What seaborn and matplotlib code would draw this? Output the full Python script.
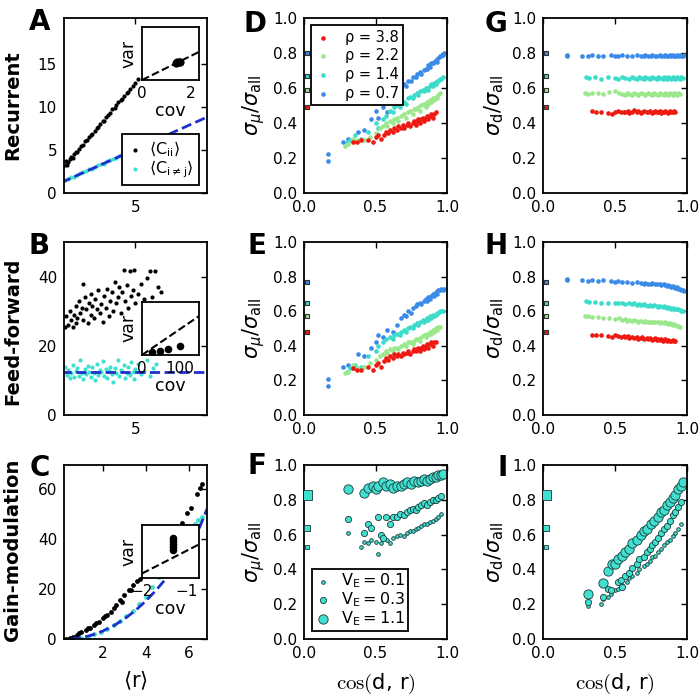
import matplotlib
matplotlib.use("Agg")
import matplotlib.pyplot as plt
import seaborn as sns

# ── Style ─────────────────────────────────────────────────
sns.set_theme(style="white", rc={"axes.edgecolor": "black", "axes.linewidth": 1.3,
                                 "text.color": "black", "axes.labelcolor": "black",
                                 "xtick.color": "black", "ytick.color": "black"})
plt.rcParams["font.family"] = ["DejaVu Sans"]
plt.rcParams["mathtext.rm"] = "cmr10"
plt.rcParams["mathtext.sf"] = "DejaVu Sans"

RED, GREEN, TURQ, BLUE = "#ee1a12", "#9be88c", "#3cdccb", "#3a8ae8"
CYAN, DBLUE, EDGE = "#40e0d0", "#1f2fcc", "#1c3a3a"

# ── Column 1 data (A: recurrent, B: feed-forward, C: gain) ─
A_BLACK_X = [0.3, 0.35, 0.4, 0.5, 0.6, 0.7, 0.8, 0.9, 1.0, 1.1, 1.2, 1.35, 1.5, 1.6, 1.75, 1.9, 2.0, 2.1, 2.25, 2.4,
             2.5, 2.65, 2.8, 2.9, 3.0, 3.15, 3.3, 3.45, 3.6, 3.7, 3.85, 4.0, 4.1, 4.25, 4.4, 4.5, 4.65, 4.8, 5.0, 5.15]
A_BLACK_Y = [3.2, 3.7, 3.3, 3.6, 3.9, 4.2, 4.1, 4.5, 4.8, 4.8, 5.1, 5.4, 5.6, 6.0, 6.1, 6.5, 6.7, 6.8, 7.2, 7.5,
             7.7, 8.0, 8.3, 8.4, 8.8, 9.0, 9.3, 9.7, 9.9, 10.2, 10.5, 10.8, 10.9, 11.3, 11.6, 11.7, 12.1, 12.4, 12.8, 13.2]
A_CYAN_X = [0.3, 0.5, 0.7, 0.9, 1.1, 1.3, 1.5, 1.7, 1.9, 2.1, 2.3, 2.5, 2.7, 2.9, 3.1, 3.3, 3.5, 3.7, 3.9, 4.1,
            4.3, 4.5, 4.7, 4.9, 5.1, 5.3, 5.5, 5.7, 5.9, 6.1, 6.3, 6.5, 6.7]
A_CYAN_Y = [1.5, 1.6, 1.8, 1.9, 2.1, 2.3, 2.4, 2.5, 2.8, 2.8, 3.0, 3.2, 3.4, 3.4, 3.7, 3.8, 4.0, 4.1, 4.3, 4.4,
            4.6, 4.7, 4.9, 5.1, 5.2, 5.4, 5.5, 5.7, 5.8, 6.0, 6.1, 6.3, 6.5]
A_FIT_X = [0.0, 9.8]
A_FIT_Y = [1.2, 8.8]
A_IN_X = [1.40, 1.45, 1.50, 1.55]
A_IN_Y = [1.40, 1.47, 1.50, 1.52]
A_IN_LINE = [0.0, 2.33]

B_BLACK_X = [0.3, 0.35, 0.5, 0.6, 0.7, 0.8, 0.9, 1.0, 1.0, 1.1, 1.2, 1.3, 1.4, 1.5, 1.5, 1.6, 1.7, 1.8, 1.9, 2.0,
             2.0, 2.1, 2.2, 2.3, 2.4, 2.5, 2.6, 2.7, 2.8, 2.9, 3.0, 3.1, 3.2, 3.3, 3.4, 3.5, 3.6, 3.7, 3.8, 3.9,
             4.0, 4.1, 4.2, 4.3, 4.4, 4.5, 4.6, 4.7, 4.8, 4.9, 5.0, 5.2, 5.4, 5.6, 5.8, 6.0, 6.1, 6.3, 6.5, 6.7]
B_BLACK_Y = [25.5, 28.5, 26.0, 30.0, 27.5, 25.5, 29.0, 31.5, 26.5, 28.0, 33.0, 29.5, 31.0, 38.0, 27.5, 34.0, 30.5, 26.5, 32.5, 29.0,
             35.0, 31.5, 28.0, 33.5, 30.5, 36.0, 29.5, 32.0, 27.0, 34.5, 31.0, 36.5, 28.5, 33.0, 35.5, 30.0, 38.5, 32.5, 34.0, 37.0,
             29.5, 35.5, 42.0, 33.0, 37.5, 31.0, 41.5, 34.5, 36.0, 42.0, 32.5, 35.0, 38.0, 33.5, 39.5, 41.5, 34.0, 41.5, 37.0, 35.5]
B_CYAN_X = [0.3, 0.4, 0.5, 0.6, 0.7, 0.8, 0.9, 1.0, 1.1, 1.2, 1.3, 1.4, 1.5, 1.6, 1.7, 1.8, 1.9, 2.0, 2.1, 2.2,
            2.3, 2.4, 2.5, 2.6, 2.7, 2.8, 2.9, 3.0, 3.1, 3.2, 3.3, 3.4, 3.5, 3.6, 3.7, 3.8, 3.9, 4.0, 4.1, 4.2,
            4.3, 4.4, 4.5, 4.6, 4.7, 4.8, 4.9, 5.0, 5.2, 5.4, 5.6, 5.8, 6.0, 6.2, 6.4]
B_CYAN_Y = [14.0, 11.5, 13.0, 10.8, 12.2, 14.5, 11.0, 12.8, 13.6, 11.2, 15.8, 12.0, 10.5, 13.2, 11.8, 14.2, 12.5, 11.0, 13.8, 12.2,
            10.2, 14.8, 11.6, 13.0, 12.4, 15.5, 11.4, 13.4, 10.6, 12.8, 14.0, 11.8, 9.6, 13.6, 12.2, 15.8, 11.2, 13.0, 12.6, 14.4,
            10.8, 12.0, 13.8, 11.6, 15.2, 12.4, 10.4, 13.2, 14.6, 11.8, 12.8, 16.0, 11.4, 13.6, 14.8]
B_FIT_X = [0.0, 9.8]
B_FIT_Y = [12.5, 12.5]
B_IN_X = [26, 47, 68, 100]
B_IN_Y = [13, 17, 22, 33]
B_IN_LINE = [0, 150]

C_BLACK_X = [0.3, 0.45, 0.6, 0.8, 1.0, 1.2, 1.4, 1.6, 1.8, 2.0, 2.2, 2.4, 2.6, 2.8, 3.0, 3.2, 3.4, 3.6, 3.75,
             0.9, 1.3, 1.7, 2.1, 2.5, 2.9, 3.3, 4.2, 4.8, 5.3, 5.68, 5.91, 6.1, 6.38, 6.52, 6.62]
C_BLACK_Y = [0.2, 0.6, 1.0, 1.8, 2.8, 3.6, 4.6, 5.6, 6.8, 8.4, 9.6, 11.0, 13.5, 15.5, 17.6, 19.5, 21.5, 23.4, 24.2,
             2.6, 4.4, 6.6, 9.4, 12.4, 15.0, 19.8, 29.0, 36.0, 42.0, 46.4, 50.4, 52.4, 58.0, 60.6, 62.0]
C_CYAN_X = [1.0, 1.3, 1.6, 1.9, 2.2, 2.5, 2.8, 3.1, 3.4, 3.7, 4.0, 4.3, 4.6, 5.0, 5.5, 6.0, 6.3, 6.45, 6.6]
C_CYAN_Y = [0.3, 1.0, 2.0, 3.0, 4.2, 5.6, 7.2, 9.2, 11.4, 14.0, 17.0, 21.0, 25.0, 30.0, 37.0, 42.5, 46.0, 47.5, 49.0]
C_FIT_X = [0.5, 1.0, 1.5, 2.0, 2.5, 3.0, 3.5, 4.0, 4.5, 5.0, 5.5, 6.0, 6.5, 6.85]
C_FIT_Y = [0.0, 0.5, 1.6, 3.2, 5.3, 8.0, 11.3, 15.2, 19.7, 24.8, 30.5, 37.0, 44.5, 52.0]
C_IN_X = [-1.31, -1.31, -1.31, -1.31, -1.31]
C_IN_Y = [-0.45, -0.58, -0.71, -0.84, -0.97]
C_IN_LINE = [-2.0, -0.73]

# ── Columns 2/3 data: four rho values, shared cos(d, r) ───
RHO_LABELS = ["ρ = 3.8", "ρ = 2.2", "ρ = 1.4", "ρ = 0.7"]
X_RHO38 = [0.34, 0.37, 0.40, 0.45, 0.48, 0.50, 0.52, 0.54, 0.56, 0.57, 0.59, 0.60, 0.62, 0.63, 0.65, 0.66, 0.68, 0.69, 0.70, 0.72,
           0.73, 0.74, 0.76, 0.77, 0.78, 0.79, 0.80, 0.81, 0.82, 0.83, 0.84, 0.85, 0.86, 0.87, 0.88, 0.89, 0.90, 0.91, 0.92]
X_RHO22 = [0.29, 0.31, 0.34, 0.38, 0.42, 0.46, 0.50, 0.53, 0.55, 0.57, 0.58, 0.60, 0.62, 0.63, 0.65, 0.66, 0.68, 0.70, 0.71, 0.73,
           0.74, 0.76, 0.77, 0.78, 0.80, 0.81, 0.82, 0.84, 0.85, 0.86, 0.87, 0.88, 0.89, 0.90, 0.91, 0.92, 0.93, 0.94, 0.95]
X_RHO14 = [0.30, 0.32, 0.36, 0.40, 0.45, 0.50, 0.52, 0.55, 0.57, 0.60, 0.62, 0.63, 0.65, 0.67, 0.68, 0.70, 0.71, 0.73, 0.74, 0.76,
           0.77, 0.79, 0.80, 0.81, 0.83, 0.84, 0.85, 0.86, 0.87, 0.88, 0.89, 0.90, 0.91, 0.92, 0.93, 0.94, 0.95, 0.96, 0.97]
X_RHO07 = [0.17, 0.17, 0.27, 0.31, 0.34, 0.38, 0.42, 0.47, 0.50, 0.52, 0.55, 0.58, 0.62, 0.65, 0.68, 0.70, 0.71, 0.73, 0.75, 0.76,
           0.78, 0.79, 0.81, 0.82, 0.84, 0.85, 0.86, 0.87, 0.88, 0.89, 0.90, 0.91, 0.92, 0.93, 0.94, 0.95, 0.96, 0.97, 0.98]

D_Y38 = [0.29, 0.29, 0.30, 0.30, 0.29, 0.32, 0.33, 0.31, 0.33, 0.35, 0.34, 0.36, 0.35, 0.37, 0.36, 0.38, 0.37, 0.39, 0.37, 0.39,
         0.40, 0.38, 0.40, 0.41, 0.39, 0.41, 0.42, 0.40, 0.42, 0.43, 0.41, 0.43, 0.44, 0.42, 0.44, 0.45, 0.43, 0.45, 0.46]
D_Y22 = [0.27, 0.28, 0.31, 0.30, 0.30, 0.32, 0.34, 0.37, 0.38, 0.40, 0.38, 0.41, 0.40, 0.42, 0.43, 0.41, 0.44, 0.45, 0.43, 0.46,
         0.47, 0.45, 0.48, 0.48, 0.49, 0.47, 0.50, 0.51, 0.49, 0.52, 0.51, 0.53, 0.52, 0.54, 0.53, 0.55, 0.54, 0.56, 0.57]
D_Y14 = [0.29, 0.30, 0.33, 0.31, 0.35, 0.40, 0.37, 0.42, 0.44, 0.47, 0.46, 0.49, 0.50, 0.49, 0.52, 0.52, 0.51, 0.54, 0.55, 0.54,
         0.56, 0.57, 0.56, 0.58, 0.59, 0.58, 0.60, 0.60, 0.59, 0.61, 0.62, 0.61, 0.63, 0.62, 0.64, 0.64, 0.65, 0.65, 0.66]
D_Y07 = [0.18, 0.22, 0.29, 0.31, 0.30, 0.35, 0.36, 0.42, 0.47, 0.43, 0.49, 0.46, 0.53, 0.56, 0.60, 0.62, 0.61, 0.64, 0.64, 0.66,
         0.66, 0.68, 0.69, 0.68, 0.70, 0.71, 0.71, 0.73, 0.72, 0.74, 0.74, 0.75, 0.76, 0.75, 0.77, 0.78, 0.78, 0.79, 0.80]

E_Y38 = [0.27, 0.26, 0.26, 0.28, 0.26, 0.29, 0.30, 0.28, 0.31, 0.33, 0.32, 0.34, 0.33, 0.35, 0.34, 0.35, 0.34, 0.36, 0.35, 0.36,
         0.37, 0.35, 0.37, 0.38, 0.37, 0.38, 0.39, 0.37, 0.39, 0.40, 0.38, 0.40, 0.41, 0.39, 0.41, 0.42, 0.40, 0.42, 0.42]
E_Y22 = [0.24, 0.25, 0.29, 0.27, 0.28, 0.30, 0.32, 0.34, 0.35, 0.37, 0.36, 0.38, 0.37, 0.39, 0.39, 0.38, 0.40, 0.41, 0.40, 0.42,
         0.42, 0.41, 0.43, 0.44, 0.44, 0.43, 0.45, 0.46, 0.45, 0.47, 0.46, 0.48, 0.47, 0.49, 0.48, 0.50, 0.49, 0.51, 0.51]
E_Y14 = [0.25, 0.27, 0.29, 0.28, 0.34, 0.37, 0.40, 0.42, 0.44, 0.45, 0.44, 0.46, 0.47, 0.46, 0.48, 0.49, 0.48, 0.50, 0.51, 0.50,
         0.52, 0.53, 0.52, 0.54, 0.55, 0.54, 0.55, 0.56, 0.55, 0.57, 0.56, 0.58, 0.57, 0.58, 0.59, 0.59, 0.60, 0.60, 0.60]
E_Y07 = [0.17, 0.21, 0.28, 0.29, 0.27, 0.35, 0.34, 0.39, 0.42, 0.46, 0.45, 0.49, 0.48, 0.52, 0.56, 0.58, 0.57, 0.60, 0.59, 0.62,
         0.63, 0.64, 0.65, 0.64, 0.66, 0.67, 0.66, 0.68, 0.67, 0.69, 0.70, 0.69, 0.71, 0.70, 0.72, 0.72, 0.73, 0.72, 0.73]

G_Y38 = [0.47, 0.465, 0.46, 0.455, 0.45, 0.46, 0.47, 0.46, 0.465, 0.46, 0.47, 0.455, 0.465, 0.475, 0.46, 0.47, 0.455, 0.465, 0.47, 0.46,
         0.465, 0.47, 0.455, 0.465, 0.47, 0.46, 0.465, 0.47, 0.455, 0.465, 0.46, 0.47, 0.465, 0.455, 0.47, 0.46, 0.465, 0.47, 0.465]
G_Y22 = [0.57, 0.565, 0.57, 0.57, 0.565, 0.575, 0.58, 0.57, 0.565, 0.56, 0.57, 0.565, 0.56, 0.57, 0.565, 0.56, 0.57, 0.565, 0.56, 0.57,
         0.565, 0.56, 0.57, 0.565, 0.56, 0.57, 0.565, 0.56, 0.57, 0.565, 0.56, 0.57, 0.565, 0.56, 0.57, 0.565, 0.56, 0.57, 0.565]
G_Y14 = [0.66, 0.655, 0.66, 0.65, 0.66, 0.655, 0.65, 0.66, 0.655, 0.65, 0.66, 0.655, 0.65, 0.66, 0.655, 0.65, 0.66, 0.655, 0.65, 0.66,
         0.655, 0.65, 0.66, 0.655, 0.65, 0.66, 0.655, 0.65, 0.66, 0.655, 0.65, 0.66, 0.655, 0.65, 0.66, 0.655, 0.65, 0.66, 0.655]
G_Y07 = [0.785, 0.79, 0.785, 0.78, 0.79, 0.785, 0.78, 0.79, 0.78, 0.785, 0.79, 0.78, 0.785, 0.79, 0.78, 0.785, 0.79, 0.78, 0.785, 0.79,
         0.78, 0.785, 0.79, 0.785, 0.78, 0.79, 0.785, 0.78, 0.79, 0.785, 0.79, 0.785, 0.78, 0.79, 0.785, 0.79, 0.78, 0.785, 0.79]

H_Y38 = [0.465, 0.46, 0.46, 0.455, 0.45, 0.46, 0.455, 0.45, 0.455, 0.45, 0.455, 0.445, 0.45, 0.445, 0.45, 0.44, 0.445, 0.45, 0.44, 0.445,
         0.44, 0.445, 0.435, 0.44, 0.445, 0.435, 0.44, 0.435, 0.44, 0.43, 0.435, 0.44, 0.43, 0.435, 0.43, 0.425, 0.435, 0.43, 0.43]
H_Y22 = [0.57, 0.57, 0.565, 0.565, 0.56, 0.56, 0.555, 0.56, 0.55, 0.555, 0.545, 0.55, 0.545, 0.55, 0.545, 0.54, 0.545, 0.54, 0.545, 0.54,
         0.535, 0.54, 0.535, 0.54, 0.535, 0.53, 0.535, 0.53, 0.535, 0.53, 0.525, 0.53, 0.525, 0.52, 0.525, 0.52, 0.515, 0.515, 0.51]
H_Y14 = [0.66, 0.655, 0.655, 0.65, 0.65, 0.645, 0.65, 0.645, 0.64, 0.645, 0.64, 0.645, 0.635, 0.64, 0.635, 0.64, 0.635, 0.63, 0.635, 0.63,
         0.635, 0.63, 0.625, 0.63, 0.625, 0.63, 0.625, 0.62, 0.625, 0.62, 0.615, 0.62, 0.615, 0.61, 0.615, 0.61, 0.605, 0.60, 0.60]
H_Y07 = [0.785, 0.78, 0.78, 0.775, 0.78, 0.775, 0.78, 0.775, 0.77, 0.775, 0.77, 0.77, 0.765, 0.77, 0.765, 0.76, 0.765, 0.76, 0.755, 0.765,
         0.76, 0.755, 0.76, 0.75, 0.755, 0.75, 0.745, 0.75, 0.745, 0.74, 0.745, 0.74, 0.735, 0.74, 0.73, 0.73, 0.725, 0.72, 0.715]

SQ_X = 0.02
SQ_DG = [0.49, 0.59, 0.67, 0.80]
SQ_EH = [0.48, 0.57, 0.65, 0.77]

# ── Gain modulation (F, I): three V_E values ──────────────
VE_LABELS = [r"$\mathsf{V_E = 0.1}$", r"$\mathsf{V_E = 0.3}$", r"$\mathsf{V_E = 1.1}$"]
X_VE01 = [0.31, 0.40, 0.42, 0.45, 0.47, 0.50, 0.52, 0.54, 0.55, 0.58, 0.60, 0.62, 0.65, 0.67, 0.70, 0.72, 0.74, 0.76, 0.78, 0.80,
          0.82, 0.84, 0.86, 0.88, 0.90, 0.92, 0.94, 0.96]
X_VE03 = [0.31, 0.42, 0.45, 0.47, 0.52, 0.54, 0.55, 0.57, 0.60, 0.62, 0.65, 0.67, 0.70, 0.72, 0.74, 0.76, 0.78, 0.80, 0.82, 0.84,
          0.86, 0.88, 0.90, 0.92, 0.94, 0.96]
X_VE11 = [0.31, 0.42, 0.45, 0.48, 0.50, 0.52, 0.55, 0.57, 0.60, 0.62, 0.65, 0.68, 0.70, 0.72, 0.75, 0.77, 0.80, 0.82, 0.84, 0.86,
          0.88, 0.90, 0.92, 0.94, 0.96, 0.97]
F_Y01 = [0.61, 0.53, 0.56, 0.55, 0.57, 0.56, 0.49, 0.55, 0.58, 0.57, 0.55, 0.58, 0.59, 0.60, 0.59, 0.61, 0.62, 0.62, 0.63, 0.64,
         0.65, 0.66, 0.66, 0.67, 0.68, 0.69, 0.70, 0.72]
F_Y03 = [0.69, 0.61, 0.66, 0.64, 0.70, 0.60, 0.58, 0.70, 0.66, 0.70, 0.70, 0.72, 0.71, 0.73, 0.74, 0.75, 0.74, 0.76, 0.77, 0.78,
         0.77, 0.79, 0.80, 0.80, 0.81, 0.82]
F_Y11 = [0.86, 0.84, 0.87, 0.88, 0.86, 0.88, 0.90, 0.88, 0.89, 0.87, 0.88, 0.88, 0.89, 0.90, 0.89, 0.91, 0.90, 0.91, 0.92, 0.91,
         0.92, 0.93, 0.93, 0.94, 0.94, 0.95]
I_Y01 = [0.19, 0.20, 0.23, 0.24, 0.26, 0.28, 0.29, 0.30, 0.31, 0.33, 0.35, 0.36, 0.38, 0.40, 0.42, 0.43, 0.45, 0.47, 0.48, 0.50,
         0.52, 0.54, 0.56, 0.57, 0.59, 0.61, 0.63, 0.66]
I_Y03 = [0.21, 0.24, 0.29, 0.28, 0.33, 0.34, 0.30, 0.36, 0.38, 0.41, 0.43, 0.46, 0.47, 0.50, 0.52, 0.54, 0.56, 0.58, 0.61, 0.63,
         0.65, 0.68, 0.71, 0.73, 0.76, 0.79]
I_Y11 = [0.26, 0.32, 0.39, 0.43, 0.43, 0.46, 0.48, 0.50, 0.52, 0.55, 0.57, 0.60, 0.62, 0.63, 0.66, 0.68, 0.70, 0.73, 0.74, 0.77,
         0.79, 0.81, 0.83, 0.86, 0.88, 0.90]
SQ_FI = [0.53, 0.64, 0.83]

# ── Layout (figure fractions) ─────────────────────────────
COL_L = [0.0914, 0.4343, 0.7757]
COL_W = [0.2043, 0.2043, 0.2057]
ROW_B = [0.7231, 0.4046, 0.0832]
ROW_H = [0.2511, 0.2482, 0.2496]
INSET_B = [0.8852, 0.4907, 0.1703]
TICK_SIZE = 11

fig = plt.figure(figsize=(7, 6.97), dpi=100)


def style(ax, size=TICK_SIZE):
    ax.tick_params(direction="in", top=True, right=True, length=4, width=1,
                   labelsize=size, pad=5, colors="black")
    for sp in ax.spines.values():
        sp.set_linewidth(1.3)
        sp.set_color("black")


def dots(ax, x, y, color, s, **kw):
    kw.setdefault("linewidth", 0)
    sns.scatterplot(x=x, y=y, ax=ax, color=color, s=s, legend=False, **kw)


def dashed(ax, x, y, color, lw):
    sns.lineplot(x=x, y=y, ax=ax, color=color, lw=lw, linestyle="--",
                 estimator=None, sort=False)


def inset(row, xlim, ylim, xticks, xticklabels):
    ax = fig.add_axes([0.2029, INSET_B[row], 0.0814, 0.0762])
    ax.set_facecolor("white")
    ax.set_xlim(*xlim)
    ax.set_ylim(*ylim)
    ax.set_xticks(xticks)
    ax.set_xticklabels(xticklabels)
    ax.set_yticks([])
    ax.tick_params(direction="in", length=3, width=1, labelsize=TICK_SIZE, pad=4)
    for sp in ax.spines.values():
        sp.set_linewidth(1.3)
        sp.set_color("black")
    ax.set_xlabel("cov", fontsize=12.5, labelpad=1)
    ax.set_ylabel("var", fontsize=12.5, labelpad=3)
    return ax


def legend(ax, loc, size, spacing, textpad, pad=0.3):
    leg = ax.legend(loc=loc, fontsize=size, frameon=True, fancybox=False, framealpha=1,
                    edgecolor="black", handlelength=1.0, handletextpad=textpad,
                    labelspacing=spacing, borderpad=pad, borderaxespad=0.5)
    leg.get_frame().set_linewidth(1.3)


# ── Column 1 ──────────────────────────────────────────────
axA = fig.add_axes([COL_L[0], ROW_B[0], COL_W[0], ROW_H[0]])
dots(axA, A_BLACK_X, A_BLACK_Y, "black", 9, label=r"$\langle\mathsf{C_{ii}}\rangle$")
dots(axA, A_CYAN_X, A_CYAN_Y, CYAN, 9, label=r"$\langle\mathsf{C_{i\neq j}}\rangle$")
dashed(axA, A_FIT_X, A_FIT_Y, DBLUE, 2)
axA.set_xlim(0.2, 9.8)
axA.set_ylim(0, 20.3)
axA.set_xticks([5])
axA.set_yticks([0, 5, 10, 15])
style(axA)
legend(axA, "lower right", 11.5, 0.0, 0.4)

axB = fig.add_axes([COL_L[0], ROW_B[1], COL_W[0], ROW_H[1]])
dots(axB, B_BLACK_X, B_BLACK_Y, "black", 9)
dots(axB, B_CYAN_X, B_CYAN_Y, CYAN, 9)
dashed(axB, B_FIT_X, B_FIT_Y, DBLUE, 2)
axB.set_xlim(0.2, 9.8)
axB.set_ylim(0, 50)
axB.set_xticks([5])
axB.set_yticks([0, 20, 40])
style(axB)

axC = fig.add_axes([COL_L[0], ROW_B[2], COL_W[0], ROW_H[2]])
dots(axC, C_BLACK_X, C_BLACK_Y, "black", 12)
dots(axC, C_CYAN_X, C_CYAN_Y, CYAN, 12)
dashed(axC, C_FIT_X, C_FIT_Y, DBLUE, 2)
axC.set_xlim(0.19, 6.85)
axC.set_ylim(0, 69.6)
axC.set_xticks([2, 4, 6])
axC.set_yticks([0, 20, 40, 60])
style(axC)
axC.set_xlabel(r"$\langle\mathsf{r}\rangle$", fontsize=15, labelpad=6)

# insets
iA = inset(0, (0, 2.33), (0, 4.4), [0, 2], ["0", "2"])
dashed(iA, A_IN_LINE, A_IN_LINE, "black", 1.5)
dots(iA, A_IN_X, A_IN_Y, "black", 35)

iB = inset(1, (0, 150), (0, 205), [0, 100], ["0", "100"])
dashed(iB, B_IN_LINE, B_IN_LINE, "black", 1.5)
dots(iB, B_IN_X, B_IN_Y, "black", 30)

iC = inset(2, (-2.0, -0.73), (-2.21, 0.11), [-2, -1], ["\u22122", "\u22121"])
dashed(iC, C_IN_LINE, C_IN_LINE, "black", 1.5)
dots(iC, C_IN_X, C_IN_Y, "black", 30)

# ── Columns 2 and 3: rho sweeps ───────────────────────────
RHO_X = [X_RHO38, X_RHO22, X_RHO14, X_RHO07]
RHO_C = [RED, GREEN, TURQ, BLUE]
YLAB_MU = r"$\sigma_\mu/\sigma_{\mathsf{all}}$"
YLAB_D = r"$\sigma_{\mathsf{d}}/\sigma_{\mathsf{all}}$"
panels = [
    (1, 0, [D_Y38, D_Y22, D_Y14, D_Y07], SQ_DG, YLAB_MU, True),
    (1, 1, [E_Y38, E_Y22, E_Y14, E_Y07], SQ_EH, YLAB_MU, False),
    (2, 0, [G_Y38, G_Y22, G_Y14, G_Y07], SQ_DG, YLAB_D, False),
    (2, 1, [H_Y38, H_Y22, H_Y14, H_Y07], SQ_EH, YLAB_D, False),
]
for col, row, ys, squares, ylab, with_leg in panels:
    ax = fig.add_axes([COL_L[col], ROW_B[row], COL_W[col], ROW_H[row]])
    for k in range(4):
        dots(ax, RHO_X[k], ys[k], RHO_C[k], 11, zorder=5 - k,
             label=RHO_LABELS[k] if with_leg else None)
    for k in range(4):
        dots(ax, [SQ_X], [squares[k]], RHO_C[k], 12, marker="s",
             edgecolor="#333333", linewidth=0.8, zorder=6)
    ax.set_xlim(0, 1)
    ax.set_ylim(0, 1)
    ax.set_xticks([0, 0.5, 1.0])
    ax.set_yticks([0, 0.2, 0.4, 0.6, 0.8, 1.0])
    style(ax)
    ax.set_ylabel(ylab, fontsize=15, labelpad=4)
    if with_leg:
        legend(ax, "upper left", 10.5, 0.25, 1.0)

# ── Gain modulation panels F and I ────────────────────────
VE_X = [X_VE01, X_VE03, X_VE11]
VE_S = [7, 20, 45]
for col, ys, ylab, with_leg in [(1, [F_Y01, F_Y03, F_Y11], YLAB_MU, True),
                                (2, [I_Y01, I_Y03, I_Y11], YLAB_D, False)]:
    ax = fig.add_axes([COL_L[col], ROW_B[2], COL_W[col], ROW_H[2]])
    for k in range(3):
        dots(ax, VE_X[k], ys[k], CYAN, VE_S[k], edgecolor=EDGE, linewidth=0.6,
             label=VE_LABELS[k] if with_leg else None)
    for k in range(3):
        dots(ax, [SQ_X], [SQ_FI[k]], CYAN, VE_S[k] - 2, marker="s",
             edgecolor=EDGE, linewidth=0.6, zorder=6)
    ax.set_xlim(0, 1)
    ax.set_ylim(0, 1)
    ax.set_xticks([0, 0.5, 1.0])
    ax.set_yticks([0, 0.2, 0.4, 0.6, 0.8, 1.0])
    style(ax)
    ax.set_ylabel(ylab, fontsize=15, labelpad=4)
    ax.set_xlabel(r"$\cos(\mathsf{d,\, r})$", fontsize=15, labelpad=8, math_fontfamily="custom")
    if with_leg:
        legend(ax, "lower left", 11.5, 0.0, 0.6, pad=0.2)

# ── Row labels and panel letters ──────────────────────────
for text, yc in [("Recurrent", 0.849), ("Feed-forward", 0.524), ("Gain-modulation", 0.211)]:
    fig.text(0.018, yc, text, rotation=90, fontsize=14, fontweight="bold",
             ha="center", va="center")
for letter, xr, yt in [("A", 0.072, 0.988), ("B", 0.071, 0.667), ("C", 0.071, 0.348),
                       ("D", 0.381, 0.986), ("E", 0.381, 0.667), ("F", 0.381, 0.352),
                       ("G", 0.725, 0.985), ("H", 0.725, 0.667), ("I", 0.725, 0.348)]:
    fig.text(xr, yt, letter, fontsize=20, fontweight="bold", ha="right", va="top")

fig.savefig("out.png", dpi=100)
plt.close(fig)
